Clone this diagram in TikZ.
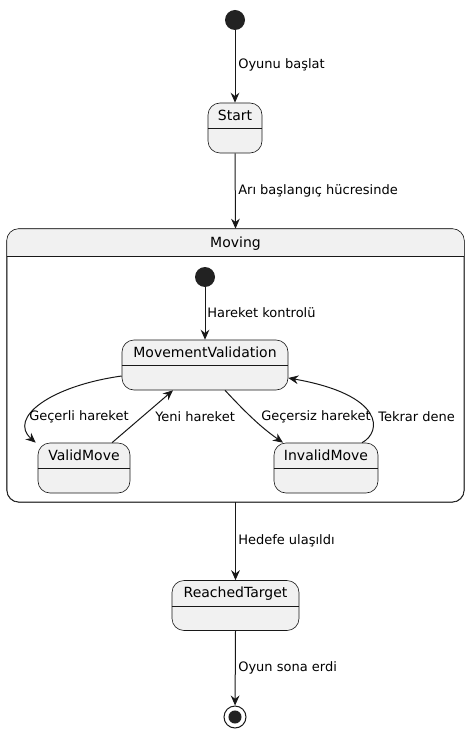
\documentclass[tikz,border=0pt]{standalone}
\usepackage{fontspec}
\setmainfont{DejaVu Sans}
\usetikzlibrary{arrows.meta,calc}
\definecolor{sfill}{HTML}{F1F1F1}
\definecolor{sline}{HTML}{181818}
\definecolor{dotc}{HTML}{222222}
\begin{document}
\begin{tikzpicture}[x=0.75pt,y=-0.75pt,
  statebox/.style={draw=sline, fill=sfill, rounded corners=9pt, line width=0.45pt, minimum height=37.5pt, inner sep=0pt},
  divider/.style={draw=sline, line width=0.45pt},
  stname/.style={font=\fontsize{10.5}{12}\selectfont, text=black, inner sep=0pt},
  lbl/.style={font=\fontsize{9.75}{11}\selectfont, anchor=west, inner sep=0pt, text=black},
  edge/.style={draw=sline, line width=0.75pt, -{Stealth[length=7.5pt,width=6.5pt,inset=2.5pt]}},
  initst/.style={circle, fill=dotc, minimum size=15pt, inner sep=0pt},
  finst/.style={circle, draw=sline, line width=0.75pt, fill=white, minimum size=16.5pt, inner sep=0pt}]
\useasboundingbox (0,0) rectangle (470,734);

% top initial
\node[initst] (i0) at (235,20) {};
% Start
\node[statebox, minimum width=40.5pt] (start) at (235,128) {};
\draw[divider] ([yshift=-19.5pt]start.north west) -- ([yshift=-19.5pt]start.north east);
\node[stname] (startT) at ([yshift=-9.75pt]start.north) {Start};

% Moving container
\node[statebox, fill=white, minimum width=342.75pt, minimum height=204.75pt] (moving) at (235.5,365.5) {};
\begin{scope}
  \clip[rounded corners=9pt] (moving.south west) rectangle (moving.north east);
  \fill[sfill] (moving.north west) rectangle ([yshift=-21pt]moving.north east);
\end{scope}
\draw[divider, rounded corners=9pt] (moving.south west) rectangle (moving.north east);
\draw[divider] ([yshift=-21pt]moving.north west) -- ([yshift=-21pt]moving.north east);
\node[stname] (movingT) at ([yshift=-11.25pt]moving.north) {Moving};

% inner
\node[initst] (i1) at (205,277) {};
\node[statebox, minimum width=124.5pt] (mv) at (205,365) {};
\draw[divider] ([yshift=-19.5pt]mv.north west) -- ([yshift=-19.5pt]mv.north east);
\node[stname] (mvT) at ([yshift=-9.75pt]mv.north) {MovementValidation};

\node[statebox, minimum width=69pt] (vm) at (84,468) {};
\draw[divider] ([yshift=-19.5pt]vm.north west) -- ([yshift=-19.5pt]vm.north east);
\node[stname] (vmT) at ([yshift=-9.75pt]vm.north) {ValidMove};

\node[statebox, minimum width=78pt] (ivm) at (326,468) {};
\draw[divider] ([yshift=-19.5pt]ivm.north west) -- ([yshift=-19.5pt]ivm.north east);
\node[stname] (ivmT) at ([yshift=-9.75pt]ivm.north) {InvalidMove};

% ReachedTarget
\node[statebox, minimum width=95.25pt] (rt) at (235.5,605.5) {};
\draw[divider] ([yshift=-19.5pt]rt.north west) -- ([yshift=-19.5pt]rt.north east);
\node[stname] (rtT) at ([yshift=-9.75pt]rt.north) {ReachedTarget};

% final
\node[finst] (fin) at (235,717) {};
\fill[dotc] (fin.center) circle (4.9pt);

% edges
\draw[edge] (i0) -- (start.north);
\draw[edge] (start.south) -- (moving.north);
\draw[edge] (i1) -- (mv.north);
\draw[edge] ([yshift=-8.25pt]mv.west) .. controls (50,386) and (8,418) .. ([xshift=-1.5pt]vm.north west);
\draw[edge] ([xshift=21pt]vm.north) -- ([xshift=-24pt]mv.south);
\draw[edge] ([xshift=15pt]mv.south) .. controls (248,415) and (262,428) .. ([xshift=-32.25pt]ivm.north);
\draw[edge] ([xshift=27pt]ivm.north) .. controls (382,432) and (385,395) .. ([yshift=-9.75pt]mv.east);
\draw[edge] (moving.south) -- (rt.north);
\draw[edge] (rt.south) -- (fin);

% labels
\node[lbl] (l1) at (238,65) {Oyunu başlat};
\node[lbl] (l2) at (238,191) {Arı başlangıç hücresinde};
\node[lbl] (l3) at (207,313) {Hareket kontrolü};
\node[lbl] (l4) at (29,417) {Geçerli hareket};
\node[lbl] (l5) at (155,417) {Yeni hareket};
\node[lbl] (l6) at (261,417) {Geçersiz hareket};
\node[lbl] (l7) at (378,417) {Tekrar dene};
\node[lbl] (l8) at (238,541) {Hedefe ulaşıldı};
\node[lbl] (l9) at (238,668) {Oyun sona erdi};
\end{tikzpicture}
\end{document}
